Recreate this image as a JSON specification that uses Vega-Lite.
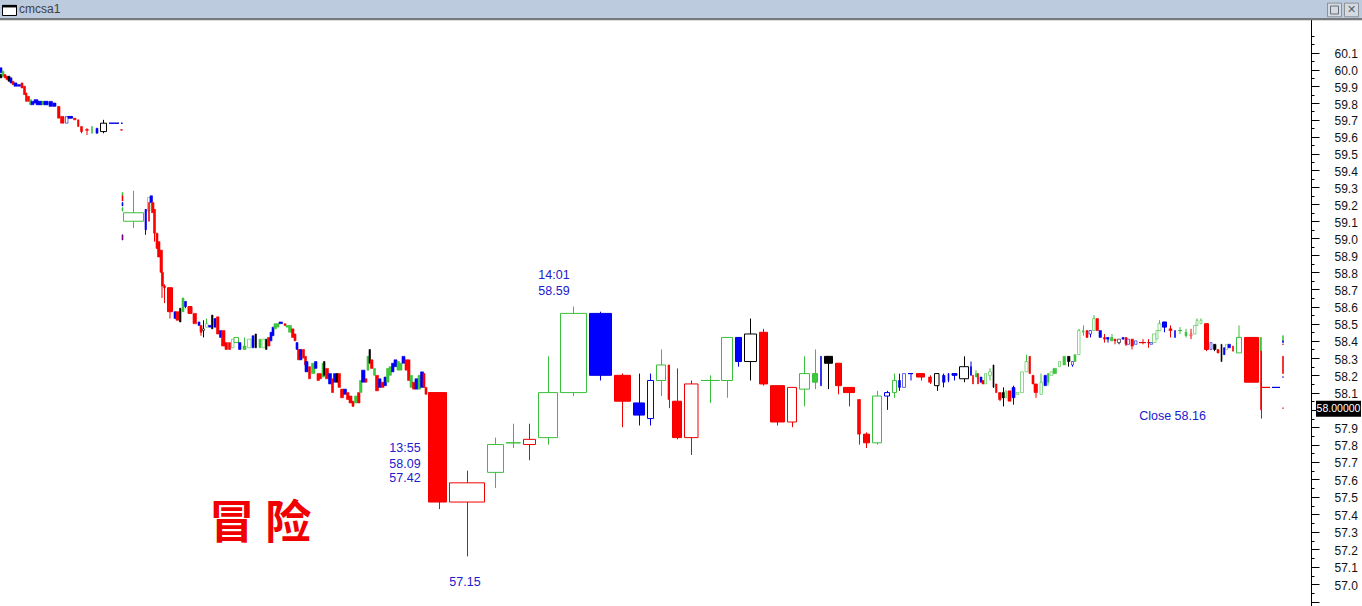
{"$schema":"https://vega.github.io/schema/vega-lite/v6.json","width":1311,"height":606,"autosize":"none","padding":{"left":0,"top":0,"right":51,"bottom":0},"background":"white","view":{"stroke":null},
"datasets":{"candles":[
{"s":0,"e":2,"t":60.01,"b":59.98,"k":"b","f":"b"},{"s":0,"e":2,"t":59.97,"b":59.95,"k":"n","f":"n"},{"s":2,"e":4,"t":59.99,"b":59.96,"k":"g","f":"g"},{"s":4,"e":6,"t":59.97,"b":59.95,"k":"r","f":"r"},{"s":6,"e":8,"t":59.96,"b":59.94,"k":"r","f":"r"},{"s":8,"e":10,"t":59.96,"b":59.93,"k":"n","f":"n"},{"s":10,"e":12,"t":59.95,"b":59.92,"k":"b","f":"b"},{"s":12,"e":14,"t":59.93,"b":59.91,"k":"r","f":"r"},{"s":14,"e":17,"t":59.92,"b":59.9,"k":"b","f":"b"},{"s":17.5,"e":20.5,"t":59.91,"b":59.9,"k":"b","f":"b"},{"s":21,"e":23,"t":59.92,"b":59.89,"k":"r","f":"r"},{"s":23.5,"e":25.5,"t":59.9,"b":59.85,"k":"r","f":"r"},{"s":25.5,"e":27,"t":59.86,"b":59.81,"k":"r","f":"r"},{"s":27.5,"e":29.5,"t":59.84,"b":59.81,"k":"r","f":"r"},{"s":29.5,"e":31.5,"t":59.82,"b":59.79,"k":"g","f":"g"},{"s":31,"e":34,"t":59.81,"b":59.79,"k":"b","f":"b"},{"s":34,"e":36,"t":59.82,"b":59.8,"k":"b","f":"b"},{"s":36,"e":38,"t":59.82,"b":59.79,"k":"b","f":"b"},{"s":38,"e":42,"t":59.81,"b":59.79,"k":"b","f":"b"},{"s":42,"e":44,"t":59.81,"b":59.79,"k":"g","f":"g"},{"s":44,"e":48,"t":59.81,"b":59.79,"k":"b","f":"b"},{"s":49,"e":52.5,"t":59.81,"b":59.78,"k":"b","f":"b"},{"s":53,"e":56,"t":59.8,"b":59.78,"k":"b","f":"b"},{"s":57.5,"e":60,"t":59.78,"b":59.71,"k":"r","f":"r"},{"s":60.5,"e":64,"t":59.72,"b":59.68,"k":"r","f":"r"},{"s":65.5,"e":68,"t":59.72,"b":59.68,"k":"b","f":"w"},{"s":68,"e":72.5,"t":59.72,"b":59.71,"k":"b","f":"b"},{"s":73.5,"e":76,"t":59.71,"b":59.7,"k":"r","f":"r"},{"s":77.5,"e":79,"t":59.7,"b":59.66,"k":"r","f":"r"},{"s":80.5,"e":82.5,"t":59.66,"b":59.63,"k":"r","f":"r","m":81.5,"h":59.66,"l":59.62},{"s":85.5,"e":88.5,"t":59.64,"b":59.64,"k":"r","f":"r","m":87,"h":59.65,"l":59.61},{"s":91.5,"e":92.5,"t":59.66,"b":59.62,"k":"g","f":"g"},{"s":96,"e":98,"t":59.65,"b":59.62,"k":"b","f":"b"},{"s":100.5,"e":106.5,"t":59.68,"b":59.63,"k":"n","f":"w","m":103.5,"h":59.7,"l":59.62},{"s":109,"e":119,"t":59.68,"b":59.68,"k":"b","f":"b"},{"s":121,"e":122.5,"t":59.68,"b":59.68,"k":"b","f":"b"},{"s":120.5,"e":122.5,"t":59.64,"b":59.64,"k":"r","f":"r"},
{"s":122,"e":123,"t":59.27,"b":59.25,"k":"g","f":"g"},{"s":122,"e":123,"t":59.25,"b":59.22,"k":"r","f":"r"},{"s":122,"e":123,"t":59.21,"b":59.19,"k":"b","f":"b"},{"s":122,"e":123,"t":59.18,"b":59.16,"k":"g","f":"g"},{"s":122,"e":123,"t":59.02,"b":58.99,"k":"b","f":"r"},
{"s":123.5,"e":143.5,"t":59.15,"b":59.1,"k":"g","f":"w","m":133.5,"h":59.28,"l":59.06},{"s":145,"e":146.5,"t":59.17,"b":59.05,"k":"b","f":"b","m":145.5,"h":59.17,"l":59.02},{"s":147.5,"e":150,"t":59.24,"b":59.16,"k":"g","f":"w"},{"s":148.5,"e":149.5,"t":59.21,"b":59.1,"k":"r","f":"r"},{"s":150,"e":152.5,"t":59.25,"b":59.21,"k":"b","f":"b"},{"s":151.5,"e":154,"t":59.21,"b":59.15,"k":"r","f":"r"},{"s":153.5,"e":155.5,"t":59.17,"b":59.03,"k":"r","f":"r","m":154.5,"h":59.17,"l":58.98},{"s":156,"e":158,"t":59.03,"b":58.94,"k":"r","f":"r"},{"s":157.5,"e":160,"t":58.98,"b":58.89,"k":"r","f":"r"},{"s":160,"e":162.5,"t":58.93,"b":58.8,"k":"r","f":"r"},{"s":161.5,"e":163.5,"t":58.8,"b":58.72,"k":"r","f":"r","m":162,"h":58.8,"l":58.65},{"s":163.5,"e":165.5,"t":58.72,"b":58.71,"k":"r","f":"r","m":164.5,"h":58.73,"l":58.62},{"s":167.5,"e":172.5,"t":58.71,"b":58.57,"k":"r","f":"r","m":170,"h":58.71,"l":58.53},{"s":174,"e":176,"t":58.57,"b":58.53,"k":"b","f":"b"},{"s":176,"e":179.5,"t":58.57,"b":58.52,"k":"r","f":"r"},{"s":179.5,"e":181,"t":58.59,"b":58.51,"k":"n","f":"n"},{"s":182,"e":184,"t":58.65,"b":58.57,"k":"g","f":"g"},{"s":184.5,"e":186.5,"t":58.63,"b":58.6,"k":"b","f":"b","m":185.5,"h":58.63,"l":58.59},{"s":188,"e":192,"t":58.6,"b":58.56,"k":"r","f":"r"},{"s":193,"e":196.5,"t":58.56,"b":58.5,"k":"r","f":"r"},{"s":198,"e":200,"t":58.51,"b":58.49,"k":"b","f":"b"},{"s":200,"e":202,"t":58.49,"b":58.45,"k":"r","f":"r","m":201,"h":58.49,"l":58.43},{"s":202.5,"e":204.5,"t":58.47,"b":58.46,"k":"n","f":"w","m":203.5,"h":58.52,"l":58.42},{"s":205.5,"e":208,"t":58.5,"b":58.48,"k":"g","f":"w","m":206.5,"h":58.53,"l":58.48},{"s":208.5,"e":211,"t":58.49,"b":58.48,"k":"b","f":"b"},{"s":211.5,"e":213,"t":58.55,"b":58.47,"k":"n","f":"n"},{"s":214,"e":216,"t":58.53,"b":58.48,"k":"b","f":"b"},{"s":216.5,"e":219,"t":58.54,"b":58.44,"k":"r","f":"r"},{"s":219.5,"e":221.5,"t":58.46,"b":58.42,"k":"b","f":"b"},{"s":221.5,"e":225,"t":58.46,"b":58.37,"k":"r","f":"r"},{"s":225,"e":227.5,"t":58.39,"b":58.35,"k":"r","f":"r"},{"s":228.5,"e":230.5,"t":58.39,"b":58.35,"k":"r","f":"r"},{"s":231.5,"e":234,"t":58.41,"b":58.36,"k":"g","f":"w"},{"s":234,"e":238.5,"t":58.42,"b":58.39,"k":"g","f":"w"},{"s":238.5,"e":241,"t":58.39,"b":58.35,"k":"b","f":"b"},{"s":243,"e":246,"t":58.37,"b":58.35,"k":"g","f":"g","m":244.5,"h":58.42,"l":58.35},{"s":247.5,"e":251,"t":58.41,"b":58.36,"k":"g","f":"w"},{"s":252,"e":254,"t":58.43,"b":58.36,"k":"b","f":"b"},{"s":255,"e":256.5,"t":58.44,"b":58.36,"k":"n","f":"n"},{"s":259,"e":261,"t":58.41,"b":58.36,"k":"g","f":"g"},{"s":262,"e":265,"t":58.41,"b":58.36,"k":"g","f":"w"},{"s":265.5,"e":267,"t":58.41,"b":58.35,"k":"n","f":"n"},{"s":267.5,"e":270,"t":58.42,"b":58.37,"k":"r","f":"r"},
{"s":270,"e":272,"t":58.45,"b":58.4,"k":"b","f":"b"},{"s":272,"e":274,"t":58.48,"b":58.43,"k":"b","f":"b"},{"s":274,"e":276.5,"t":58.5,"b":58.47,"k":"g","f":"g"},{"s":276.5,"e":279,"t":58.5,"b":58.48,"k":"g","f":"g"},{"s":279,"e":282.5,"t":58.51,"b":58.5,"k":"b","f":"b"},{"s":284,"e":286,"t":58.5,"b":58.49,"k":"r","f":"r"},{"s":286,"e":288.5,"t":58.49,"b":58.48,"k":"g","f":"g"},{"s":288.5,"e":291.5,"t":58.49,"b":58.45,"k":"g","f":"g"},{"s":291.5,"e":294,"t":58.47,"b":58.42,"k":"r","f":"r"},{"s":294,"e":296,"t":58.44,"b":58.4,"k":"r","f":"r"},{"s":296,"e":298,"t":58.39,"b":58.35,"k":"b","f":"b"},{"s":297.5,"e":300,"t":58.35,"b":58.29,"k":"r","f":"r"},{"s":299.5,"e":302,"t":58.35,"b":58.29,"k":"b","f":"b"},{"s":302.5,"e":304.5,"t":58.35,"b":58.3,"k":"r","f":"r"},{"s":304.5,"e":306.5,"t":58.31,"b":58.26,"k":"r","f":"r"},{"s":305,"e":308,"t":58.28,"b":58.22,"k":"b","f":"b"},{"s":308.5,"e":310.5,"t":58.25,"b":58.18,"k":"r","f":"r"},{"s":311.5,"e":315,"t":58.27,"b":58.21,"k":"g","f":"g"},{"s":314.5,"e":317,"t":58.28,"b":58.24,"k":"b","f":"b"},{"s":317,"e":319.5,"t":58.21,"b":58.17,"k":"r","f":"r"},{"s":319.5,"e":321.5,"t":58.21,"b":58.18,"k":"r","f":"r"},{"s":322,"e":324.5,"t":58.27,"b":58.19,"k":"g","f":"g"},{"s":323.5,"e":325,"t":58.28,"b":58.2,"k":"n","f":"n"},{"s":325.5,"e":328.5,"t":58.24,"b":58.18,"k":"r","f":"r"},{"s":328.5,"e":331.5,"t":58.21,"b":58.15,"k":"b","f":"b"},{"s":331.5,"e":333.5,"t":58.18,"b":58.1,"k":"r","f":"r"},{"s":333.5,"e":336,"t":58.21,"b":58.16,"k":"b","f":"b"},{"s":336,"e":338,"t":58.21,"b":58.16,"k":"n","f":"n"},{"s":338,"e":340.5,"t":58.21,"b":58.13,"k":"r","f":"r"},{"s":340.5,"e":343.5,"t":58.12,"b":58.07,"k":"r","f":"r"},{"s":343.5,"e":346.5,"t":58.12,"b":58.09,"k":"b","f":"b"},{"s":346.5,"e":349,"t":58.1,"b":58.06,"k":"r","f":"r"},{"s":349,"e":352,"t":58.08,"b":58.04,"k":"r","f":"r"},{"s":352,"e":354,"t":58.05,"b":58.02,"k":"r","f":"r"},{"s":354.5,"e":357,"t":58.08,"b":58.04,"k":"g","f":"g"},{"s":357.5,"e":360,"t":58.1,"b":58.04,"k":"r","f":"r"},{"s":359.5,"e":362,"t":58.17,"b":58.1,"k":"g","f":"g"},{"s":361.5,"e":365,"t":58.23,"b":58.16,"k":"b","f":"b"},{"s":365,"e":367,"t":58.18,"b":58.16,"k":"r","f":"r"},{"s":367,"e":369,"t":58.31,"b":58.23,"k":"g","f":"g"},{"s":369,"e":370.5,"t":58.35,"b":58.27,"k":"n","f":"n"},{"s":370.5,"e":373,"t":58.29,"b":58.24,"k":"r","f":"r"},{"s":373.5,"e":375.5,"t":58.24,"b":58.2,"k":"g","f":"g"},{"s":375.5,"e":378.5,"t":58.2,"b":58.11,"k":"r","f":"r"},{"s":378.5,"e":381,"t":58.18,"b":58.13,"k":"b","f":"b"},{"s":381,"e":384,"t":58.16,"b":58.13,"k":"r","f":"r"},{"s":384,"e":386.5,"t":58.19,"b":58.14,"k":"b","f":"b"},{"s":386.5,"e":389,"t":58.24,"b":58.16,"k":"g","f":"g"},{"s":389,"e":391.5,"t":58.25,"b":58.2,"k":"g","f":"g"},{"s":391.5,"e":394,"t":58.27,"b":58.22,"k":"b","f":"b"},{"s":394,"e":397,"t":58.29,"b":58.25,"k":"b","f":"b"},{"s":397,"e":399.5,"t":58.28,"b":58.23,"k":"g","f":"g"},{"s":399.5,"e":402,"t":58.27,"b":58.23,"k":"g","f":"g"},{"s":402,"e":405,"t":58.31,"b":58.27,"k":"b","f":"b"},{"s":405,"e":407.5,"t":58.29,"b":58.23,"k":"r","f":"r"},{"s":407.5,"e":410,"t":58.29,"b":58.17,"k":"r","f":"r"},{"s":410,"e":412.5,"t":58.2,"b":58.13,"k":"g","f":"g"},{"s":412.5,"e":415,"t":58.16,"b":58.12,"k":"r","f":"r"},{"s":415,"e":418,"t":58.18,"b":58.12,"k":"b","f":"b"},{"s":418,"e":420.5,"t":58.2,"b":58.12,"k":"g","f":"g"},{"s":420.5,"e":423.5,"t":58.22,"b":58.13,"k":"b","f":"b"},{"s":423,"e":425,"t":58.21,"b":58.13,"k":"r","f":"r"},{"s":425,"e":427,"t":58.13,"b":58.09,"k":"r","f":"r"},
{"s":428.5,"e":446.5,"t":58.1,"b":57.47,"k":"r","f":"r","m":439.5,"h":58.1,"l":57.43},{"s":449.5,"e":484.5,"t":57.58,"b":57.47,"k":"r","f":"w","m":467.5,"h":57.65,"l":57.16},{"s":487.5,"e":503.5,"t":57.8,"b":57.64,"k":"g","f":"w","m":495.5,"h":57.84,"l":57.55},{"s":506,"e":520.5,"t":57.81,"b":57.81,"k":"g","f":"g","m":513.5,"h":57.92,"l":57.78},{"s":523.5,"e":535.5,"t":57.83,"b":57.8,"k":"r","f":"w","m":529.5,"h":57.92,"l":57.71},{"s":538.5,"e":557.5,"t":58.1,"b":57.84,"k":"g","f":"w","m":548.5,"h":58.31,"l":57.8},{"s":560.5,"e":586.5,"t":58.56,"b":58.1,"k":"g","f":"w","m":573.5,"h":58.6,"l":58.08},{"s":589.5,"e":611.5,"t":58.56,"b":58.2,"k":"b","f":"b","m":600.5,"h":58.57,"l":58.17},{"s":614.5,"e":630.5,"t":58.2,"b":58.05,"k":"r","f":"r","m":622.5,"h":58.21,"l":57.9},{"s":633.5,"e":644.5,"t":58.04,"b":57.97,"k":"b","f":"b","m":639.5,"h":58.21,"l":57.91},{"s":647.5,"e":653.5,"t":58.17,"b":57.95,"k":"b","f":"w","m":650.5,"h":58.21,"l":57.91},{"s":656.5,"e":665.5,"t":58.26,"b":58.17,"k":"g","f":"w","m":661.5,"h":58.35,"l":58.08},{"s":668,"e":669.5,"t":58.26,"b":58.06,"k":"r","f":"r","m":669.5,"h":58.26,"l":58.01},{"s":672.5,"e":681.5,"t":58.05,"b":57.84,"k":"r","f":"r","m":677.5,"h":58.24,"l":57.83},{"s":684.5,"e":698,"t":58.15,"b":57.84,"k":"r","f":"w","m":691.5,"h":58.17,"l":57.74},{"s":701,"e":719.5,"t":58.17,"b":58.17,"k":"g","f":"g","m":710.5,"h":58.2,"l":58.04},{"s":721.5,"e":732.5,"t":58.42,"b":58.17,"k":"g","f":"w","m":727.5,"h":58.42,"l":58.07},{"s":735.5,"e":741.5,"t":58.42,"b":58.28,"k":"b","f":"b","m":738.5,"h":58.42,"l":58.25},{"s":744.5,"e":756.5,"t":58.44,"b":58.28,"k":"n","f":"w","m":750.5,"h":58.53,"l":58.17},{"s":759.5,"e":767.5,"t":58.45,"b":58.15,"k":"r","f":"r","m":763.5,"h":58.47,"l":58.14},{"s":770.5,"e":784.5,"t":58.14,"b":57.93,"k":"r","f":"r","m":777.5,"h":58.14,"l":57.91},{"s":787.5,"e":796.5,"t":58.13,"b":57.93,"k":"r","f":"w","m":792.5,"h":58.13,"l":57.9},{"s":799.5,"e":809.5,"t":58.21,"b":58.12,"k":"g","f":"w","m":804.5,"h":58.31,"l":58.02},{"s":812.5,"e":817.5,"t":58.21,"b":58.16,"k":"g","f":"g","m":815.5,"h":58.35,"l":58.12},{"s":820.5,"e":821.5,"t":58.31,"b":58.14,"k":"b","f":"b"},{"s":824.5,"e":832.5,"t":58.31,"b":58.27,"k":"n","f":"n","m":828.5,"h":58.31,"l":58.12},{"s":835.5,"e":841.5,"t":58.27,"b":58.14,"k":"r","f":"r","m":838.5,"h":58.27,"l":58.09},{"s":843.5,"e":854.5,"t":58.13,"b":58.1,"k":"r","f":"r","m":849.5,"h":58.13,"l":58.02},{"s":857.5,"e":860.5,"t":58.06,"b":57.86,"k":"r","f":"r","m":859.5,"h":58.06,"l":57.8},{"s":863.5,"e":869.5,"t":57.86,"b":57.81,"k":"r","f":"r","m":866.5,"h":57.87,"l":57.78},{"s":872.5,"e":881.5,"t":58.08,"b":57.81,"k":"g","f":"w","m":877.5,"h":58.11,"l":57.8},{"s":884.5,"e":889.5,"t":58.1,"b":58.08,"k":"b","f":"w","m":887.5,"h":58.11,"l":58},{"s":892.5,"e":896.5,"t":58.17,"b":58.1,"k":"g","f":"w","m":894.5,"h":58.21,"l":58.07},{"s":898.5,"e":900.5,"t":58.17,"b":58.13,"k":"b","f":"b","m":899.5,"h":58.21,"l":58.11},{"s":902.5,"e":905.5,"t":58.21,"b":58.13,"k":"b","f":"w"},{"s":908,"e":913,"t":58.21,"b":58.21,"k":"b","f":"b","m":911,"h":58.21,"l":58.17},{"s":916.5,"e":924.5,"t":58.21,"b":58.19,"k":"r","f":"r","m":921.5,"h":58.21,"l":58.17},{"s":928.5,"e":931.5,"t":58.19,"b":58.16,"k":"r","f":"r","m":930.5,"h":58.2,"l":58.15},{"s":934.5,"e":939,"t":58.21,"b":58.14,"k":"n","f":"w","m":937.5,"h":58.21,"l":58.11},{"s":942.5,"e":945,"t":58.2,"b":58.16,"k":"b","f":"b","m":943.5,"h":58.21,"l":58.13},{"s":948,"e":949,"t":58.21,"b":58.17,"k":"b","f":"b","m":948.5,"h":58.21,"l":58.16},{"s":952,"e":957,"t":58.21,"b":58.2,"k":"b","f":"b","m":954.5,"h":58.21,"l":58.17},{"s":959.5,"e":968.5,"t":58.25,"b":58.18,"k":"n","f":"w","m":964.5,"h":58.31,"l":58.16},{"s":970.5,"e":971.5,"t":58.25,"b":58.2,"k":"b","f":"b","m":971,"h":58.28,"l":58.2},{"s":972.5,"e":973.5,"t":58.2,"b":58.15,"k":"r","f":"r"},{"s":975.5,"e":977.5,"t":58.21,"b":58.19,"k":"g","f":"g","m":976,"h":58.23,"l":58.19},{"s":977.5,"e":978.5,"t":58.21,"b":58.15,"k":"r","f":"r"},{"s":980,"e":982,"t":58.19,"b":58.16,"k":"b","f":"b"},{"s":982,"e":984,"t":58.17,"b":58.15,"k":"r","f":"r"},{"s":984.5,"e":986.5,"t":58.21,"b":58.15,"k":"g","f":"w"},{"s":988.5,"e":991.5,"t":58.22,"b":58.2,"k":"g","f":"w","m":990,"h":58.24,"l":58.17},
{"s":993,"e":994,"t":58.26,"b":58.13,"k":"n","f":"n"},{"s":995.5,"e":997,"t":58.15,"b":58.1,"k":"r","f":"r"},{"s":998.5,"e":1001,"t":58.1,"b":58.06,"k":"r","f":"r","m":1000,"h":58.1,"l":58.05},{"s":1002,"e":1004.5,"t":58.1,"b":58.07,"k":"n","f":"n","m":1003.5,"h":58.13,"l":58.02},{"s":1005,"e":1006.5,"t":58.11,"b":58.07,"k":"g","f":"w"},{"s":1008,"e":1011,"t":58.11,"b":58.05,"k":"r","f":"r"},{"s":1012,"e":1015,"t":58.13,"b":58.07,"k":"b","f":"b","m":1013.5,"h":58.14,"l":58.03},{"s":1016,"e":1019,"t":58.1,"b":58.09,"k":"g","f":"w"},{"s":1020.5,"e":1023.5,"t":58.22,"b":58.1,"k":"g","f":"w"},{"s":1025,"e":1028,"t":58.28,"b":58.22,"k":"g","f":"w","m":1026.5,"h":58.32,"l":58.22},{"s":1029,"e":1030.5,"t":58.31,"b":58.21,"k":"r","f":"r"},{"s":1032,"e":1034,"t":58.2,"b":58.15,"k":"r","f":"r"},{"s":1034,"e":1037.5,"t":58.15,"b":58.1,"k":"r","f":"r","m":1036,"h":58.15,"l":58.07},{"s":1040,"e":1042.5,"t":58.16,"b":58.09,"k":"g","f":"w","m":1041,"h":58.21,"l":58.09},{"s":1044,"e":1046.5,"t":58.2,"b":58.14,"k":"b","f":"b"},{"s":1047.5,"e":1049,"t":58.21,"b":58.16,"k":"g","f":"g","m":1048,"h":58.21,"l":58.14},{"s":1050,"e":1053,"t":58.22,"b":58.2,"k":"g","f":"w"},{"s":1053,"e":1056.5,"t":58.24,"b":58.21,"k":"g","f":"g"},{"s":1058.5,"e":1060.5,"t":58.28,"b":58.25,"k":"g","f":"w"},{"s":1063,"e":1065.5,"t":58.31,"b":58.26,"k":"g","f":"g"},{"s":1067.5,"e":1070,"t":58.31,"b":58.28,"k":"n","f":"n","m":1068.5,"h":58.31,"l":58.25},{"s":1071.5,"e":1073.5,"t":58.28,"b":58.26,"k":"b","f":"w","m":1072.5,"h":58.28,"l":58.25},{"s":1074,"e":1076,"t":58.32,"b":58.28,"k":"g","f":"g"},{"s":1077.5,"e":1080,"t":58.46,"b":58.32,"k":"g","f":"w","m":1079,"h":58.47,"l":58.32},{"s":1082.5,"e":1084,"t":58.46,"b":58.45,"k":"g","f":"g","m":1083.5,"h":58.49,"l":58.43},{"s":1086,"e":1088,"t":58.46,"b":58.42,"k":"r","f":"r"},{"s":1089,"e":1091.5,"t":58.46,"b":58.44,"k":"b","f":"w","m":1090.5,"h":58.46,"l":58.42},{"s":1092.5,"e":1095,"t":58.53,"b":58.46,"k":"g","f":"w","m":1094,"h":58.55,"l":58.46},{"s":1096,"e":1098.5,"t":58.53,"b":58.46,"k":"r","f":"r"},{"s":1099,"e":1101.5,"t":58.46,"b":58.42,"k":"b","f":"b"},{"s":1103.5,"e":1105.5,"t":58.42,"b":58.41,"k":"r","f":"r","m":1104.5,"h":58.44,"l":58.39},{"s":1106.5,"e":1109,"t":58.42,"b":58.41,"k":"b","f":"b","m":1108,"h":58.42,"l":58.39},{"s":1110.5,"e":1113,"t":58.42,"b":58.4,"k":"g","f":"g","m":1112,"h":58.44,"l":58.4},{"s":1114,"e":1116,"t":58.41,"b":58.4,"k":"r","f":"r","m":1115,"h":58.41,"l":58.38},{"s":1117.5,"e":1120.5,"t":58.41,"b":58.39,"k":"n","f":"w","m":1119,"h":58.41,"l":58.38},{"s":1122,"e":1124,"t":58.42,"b":58.41,"k":"b","f":"b"},{"s":1125,"e":1127,"t":58.42,"b":58.38,"k":"r","f":"r","m":1126,"h":58.42,"l":58.37},{"s":1127,"e":1129.5,"t":58.41,"b":58.38,"k":"b","f":"w"},{"s":1131,"e":1133.5,"t":58.41,"b":58.37,"k":"r","f":"r","m":1132,"h":58.41,"l":58.35},{"s":1134.5,"e":1137,"t":58.4,"b":58.38,"k":"b","f":"w"},{"s":1139,"e":1146,"t":58.39,"b":58.39,"k":"r","f":"r","m":1143,"h":58.41,"l":58.38},{"s":1147.5,"e":1150,"t":58.39,"b":58.39,"k":"r","f":"r","m":1148.5,"h":58.41,"l":58.36},{"s":1150,"e":1152.5,"t":58.39,"b":58.38,"k":"b","f":"w"},{"s":1152.5,"e":1156,"t":58.44,"b":58.39,"k":"g","f":"w"},{"s":1156,"e":1158,"t":58.46,"b":58.41,"k":"g","f":"w"},{"s":1158,"e":1161,"t":58.5,"b":58.46,"k":"g","f":"w","m":1159.5,"h":58.52,"l":58.46},{"s":1162.5,"e":1166.5,"t":58.51,"b":58.48,"k":"b","f":"b","m":1164.5,"h":58.51,"l":58.45},{"s":1169,"e":1172,"t":58.47,"b":58.46,"k":"r","f":"r","m":1170.5,"h":58.49,"l":58.42},{"s":1174.5,"e":1175.5,"t":58.46,"b":58.42,"k":"b","f":"b"},{"s":1178.5,"e":1182,"t":58.46,"b":58.46,"k":"g","f":"g","m":1180,"h":58.48,"l":58.44},{"s":1185,"e":1187,"t":58.45,"b":58.43,"k":"g","f":"g","m":1186,"h":58.47,"l":58.42},{"s":1190,"e":1192,"t":58.44,"b":58.43,"k":"r","f":"w","m":1191,"h":58.47,"l":58.41},{"s":1193.5,"e":1196,"t":58.49,"b":58.44,"k":"g","f":"w"},{"s":1196,"e":1198,"t":58.52,"b":58.49,"k":"g","f":"w","m":1197,"h":58.53,"l":58.49},{"s":1200,"e":1202,"t":58.52,"b":58.5,"k":"g","f":"w","m":1201,"h":58.53,"l":58.5},{"s":1204.5,"e":1208.5,"t":58.5,"b":58.35,"k":"r","f":"r","m":1206.5,"h":58.5,"l":58.34},{"s":1210,"e":1212,"t":58.39,"b":58.35,"k":"b","f":"w"},{"s":1213.5,"e":1216,"t":58.38,"b":58.35,"k":"n","f":"n","m":1214.5,"h":58.38,"l":58.34},{"s":1217,"e":1219,"t":58.35,"b":58.33,"k":"r","f":"r"},{"s":1221,"e":1222,"t":58.38,"b":58.28,"k":"n","f":"n"},{"s":1223.5,"e":1225,"t":58.36,"b":58.32,"k":"b","f":"b"},{"s":1225.5,"e":1227.5,"t":58.38,"b":58.35,"k":"g","f":"w"},{"s":1228,"e":1230.5,"t":58.38,"b":58.36,"k":"b","f":"b"},{"s":1232.5,"e":1233.5,"t":58.37,"b":58.34,"k":"r","f":"r"},{"s":1236.5,"e":1241.5,"t":58.42,"b":58.33,"k":"g","f":"w","m":1239,"h":58.49,"l":58.33},{"s":1244.5,"e":1258.5,"t":58.42,"b":58.16,"k":"r","f":"r"},{"s":1260,"e":1261.5,"t":58.42,"b":58.34,"k":"g","f":"g"},{"s":1260.5,"e":1261.5,"t":58.34,"b":58,"k":"r","f":"r","m":1261.5,"h":58.34,"l":57.95},{"s":1262,"e":1270,"t":58.13,"b":58.13,"k":"r","f":"r"},{"s":1272,"e":1280,"t":58.13,"b":58.13,"k":"b","f":"b"},{"s":1282.5,"e":1283.5,"t":58.43,"b":58.4,"k":"g","f":"g"},{"s":1282.5,"e":1283.5,"t":58.4,"b":58.39,"k":"b","f":"b"},{"s":1282.5,"e":1283.5,"t":58.38,"b":58.38,"k":"r","f":"r"},{"s":1282.5,"e":1283.5,"t":58.31,"b":58.21,"k":"r","f":"r"},{"s":1282.5,"e":1283.5,"t":58.19,"b":58.19,"k":"b","f":"b"},{"s":1282.5,"e":1283.5,"t":58.01,"b":58.01,"k":"r","f":"r"}
],
"notes":[{"x":405,"p":57.78,"text":"13:55"},{"x":405,"p":57.69,"text":"58.09"},{"x":405,"p":57.61,"text":"57.42"},{"x":554,"p":58.785,"text":"14:01"},{"x":554,"p":58.69,"text":"58.59"},{"x":465,"p":57.015,"text":"57.15"},{"x":1172.5,"p":57.965,"text":"Close 58.16"}]},
"layer":[
{"data":{"name":"candles"},"mark":{"type":"rule","strokeWidth":1},"encoding":{
"x":{"field":"m","type":"quantitative","scale":{"domain":[0,1311],"range":[0,1311],"nice":false,"zero":false},"axis":null},
"y":{"field":"l","type":"quantitative","title":null,"scale":{"type":"log","domain":[56.878,60.4168],"nice":false,"zero":false},
"axis":{"orient":"right","title":null,"grid":false,"values":[56.9,56.95,57,57.05,57.1,57.15,57.2,57.25,57.3,57.35,57.4,57.45,57.5,57.55,57.6,57.65,57.7,57.75,57.8,57.85,57.9,57.95,58,58.05,58.1,58.15,58.2,58.25,58.3,58.35,58.4,58.45,58.5,58.55,58.6,58.65,58.7,58.75,58.8,58.85,58.9,58.95,59,59.05,59.1,59.15,59.2,59.25,59.3,59.35,59.4,59.45,59.5,59.55,59.6,59.65,59.7,59.75,59.8,59.85,59.9,59.95,60,60.05,60.1,60.15,60.2],
"labelExpr":"round(datum.value*100)%10==0 && datum.value>56.95 && datum.value<60.15 && datum.value!=58 ? format(datum.value,'.1f') : ''",
"tickSize":{"condition":{"test":"round(datum.value*100)%10==0 && datum.value<60.15","value":8},"value":3},
"labelPadding":15,"labelFont":"Liberation Sans","labelFontSize":12,"labelColor":"#111111","labelAlign":"left","labelBaseline":"middle","labelOffset":1,"labelOverlap":false,"labelFlush":false,"tickColor":"#000000","domainColor":"#000000","tickWidth":1,"domainWidth":1}},
"y2":{"field":"h"},
"color":{"field":"k","type":"nominal","legend":null,"scale":{"domain":["r","g","b","n"],"range":["#f00000","#3cbf3c","#0000e6","#000000"]}}}},
{"data":{"name":"candles"},"mark":{"type":"rect"},"encoding":{
"x":{"field":"s","type":"quantitative"},"x2":{"field":"e"},
"y":{"field":"t","type":"quantitative"},"y2":{"field":"b"},
"strokeWidth":{"condition":{"test":"datum.e-datum.s<4 && datum.t!=datum.b","value":0.6},"value":1},
"stroke":{"field":"k","type":"nominal","legend":null,"scale":{"domain":["r","g","b","n"],"range":["#f00000","#3cbf3c","#0000e6","#000000"]}},
"fill":{"field":"f","type":"nominal","legend":null,"scale":{"domain":["r","g","b","n","w"],"range":["#ff0000","#3cc83c","#0000ff","#000000","#ffffff"]}}}},
{"data":{"name":"notes"},"mark":{"type":"text","font":"Liberation Sans","fontSize":12.5,"color":"#2020cc","align":"center","baseline":"middle"},"encoding":{"x":{"field":"x","type":"quantitative"},"y":{"field":"p","type":"quantitative"},"text":{"field":"text"}}},
{"data":{"values":[{"x":260,"p":57.345,"text":"冒 险"}]},"mark":{"type":"text","font":"Noto Sans CJK SC","fontWeight":"bold","fontSize":46,"color":"#f00000","align":"center","baseline":"middle"},"encoding":{"x":{"field":"x","type":"quantitative"},"y":{"field":"p","type":"quantitative"},"text":{"field":"text"}}},
{"data":{"values":[{"s":0,"e":1362,"t":60.4168,"b":60.3085}]},"mark":{"type":"rect","fill":"#bccbdd"},"encoding":{"x":{"field":"s","type":"quantitative"},"x2":{"field":"e"},"y":{"field":"t","type":"quantitative"},"y2":{"field":"b"}}},
{"data":{"values":[{"s":0,"e":1362,"t":60.3085,"b":60.2945}]},"mark":{"type":"rect","fill":"#77797c"},"encoding":{"x":{"field":"s","type":"quantitative"},"x2":{"field":"e"},"y":{"field":"t","type":"quantitative"},"y2":{"field":"b"}}},
{"data":{"values":[{"s":2.5,"e":16.5,"t":60.384,"b":60.3236}]},"mark":{"type":"rect","fill":"#ffffff","stroke":"#000000","strokeWidth":1},"encoding":{"x":{"field":"s","type":"quantitative"},"x2":{"field":"e"},"y":{"field":"t","type":"quantitative"},"y2":{"field":"b"}}},
{"data":{"values":[{"s":2.5,"e":16.5,"t":60.384,"b":60.375}]},"mark":{"type":"rect","fill":"#000000","stroke":"#000000","strokeWidth":1},"encoding":{"x":{"field":"s","type":"quantitative"},"x2":{"field":"e"},"y":{"field":"t","type":"quantitative"},"y2":{"field":"b"}}},
{"data":{"values":[{"s":1327.5,"e":1341.5,"t":60.398,"b":60.316},{"s":1344.5,"e":1358.5,"t":60.398,"b":60.316}]},"mark":{"type":"rect","fill":"#d4dae2","stroke":"#8d9299","strokeWidth":1},"encoding":{"x":{"field":"s","type":"quantitative"},"x2":{"field":"e"},"y":{"field":"t","type":"quantitative"},"y2":{"field":"b"}}},
{"data":{"values":[{"s":1330.5,"e":1338.5,"t":60.3805,"b":60.3326}]},"mark":{"type":"rect","fill":"#d4dae2","stroke":"#6a6f76","strokeWidth":1},"encoding":{"x":{"field":"s","type":"quantitative"},"x2":{"field":"e"},"y":{"field":"t","type":"quantitative"},"y2":{"field":"b"}}},
{"data":{"values":[{"x":1351.5,"p":60.3567,"text":"✕"}]},"mark":{"type":"text","font":"DejaVu Sans","fontSize":11,"color":"#5a5f66","align":"center","baseline":"middle"},"encoding":{"x":{"field":"x","type":"quantitative"},"y":{"field":"p","type":"quantitative"},"text":{"field":"text"}}},
{"data":{"values":[{"x":19,"p":60.3625,"text":"cmcsa1"}]},"mark":{"type":"text","font":"Liberation Sans","fontSize":12,"color":"#3c4046","align":"left","baseline":"middle"},"encoding":{"x":{"field":"x","type":"quantitative"},"y":{"field":"p","type":"quantitative"},"text":{"field":"text"}}},
{"data":{"values":[{"s":1316,"e":1361,"t":58.053,"b":57.96}]},"mark":{"type":"rect","fill":"#000000"},"encoding":{"x":{"field":"s","type":"quantitative"},"x2":{"field":"e"},"y":{"field":"t","type":"quantitative"},"y2":{"field":"b"}}},
{"data":{"values":[{"x":1338.5,"p":58.005,"text":"58.00000"}]},"mark":{"type":"text","font":"Liberation Sans","fontSize":10.5,"color":"#ffffff","align":"center","baseline":"middle"},"encoding":{"x":{"field":"x","type":"quantitative"},"y":{"field":"p","type":"quantitative"},"text":{"field":"text"}}}
]}
